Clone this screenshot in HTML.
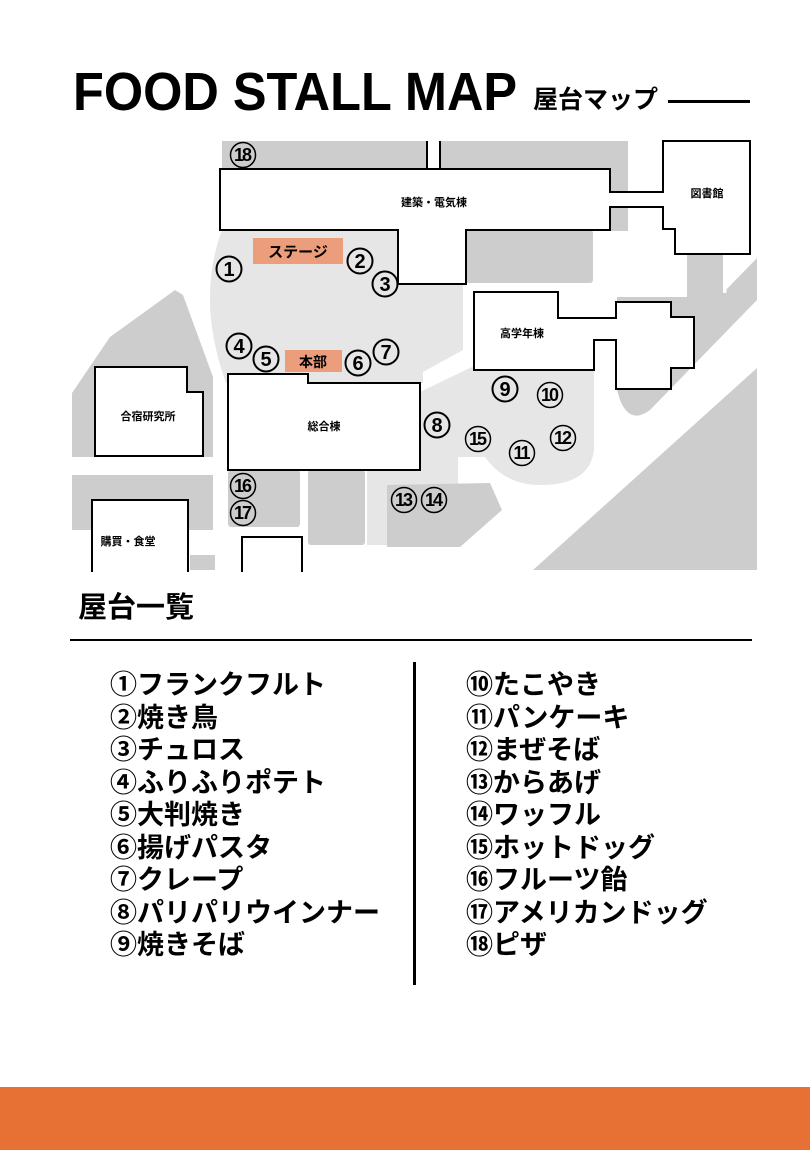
<!DOCTYPE html>
<html><head><meta charset="utf-8">
<style>
body{margin:0;width:810px;height:1150px;background:#fff;position:relative;overflow:hidden;font-family:"Liberation Sans","Noto Sans CJK JP",sans-serif;}
.t{position:absolute;white-space:nowrap;}
.list{position:absolute;font-size:27px;font-weight:bold;line-height:32.5px;font-family:"Liberation Sans","Noto Sans CJK JP",sans-serif;}
</style></head><body>
<div class="t" style="left:73px;top:62px;font-size:54px;font-weight:bold;line-height:60px;transform:scaleX(0.935);transform-origin:0 0;">FOOD STALL MAP</div>
<div class="t" style="left:533px;top:84px;font-size:25px;font-weight:bold;line-height:32px;">屋台マップ</div>
<div style="position:absolute;left:668px;top:100px;width:82px;height:3px;background:#000"></div>

<svg style="position:absolute;left:0;top:0" width="810" height="580" viewBox="0 0 810 580" font-family="Liberation Sans, Noto Sans CJK JP, sans-serif">
<g fill="#cdcdcd">
<rect x="222" y="141" width="205" height="27"/>
<rect x="440" y="141" width="188" height="27"/>
<rect x="610" y="141" width="18" height="90"/>
<rect x="466" y="230" width="127" height="53" rx="3"/>
<polygon points="72,393 110,337 175,290 183,295 213,377 213,457 72,457"/>
<rect x="72" y="475" width="141" height="55"/>
<rect x="190" y="555" width="25" height="15"/>
<rect x="228" y="470" width="72" height="57" rx="3"/>
<rect x="308" y="470" width="57" height="75" rx="3"/>
<path d="M617,297 L687,297 L687,254 L723,254 L723,293 L757,258 L757,300 L650,410 Q630,425 620,400 L617,390 Z"/>
<polygon points="757,368 757,570 533,570"/>
</g>
<line x1="725" y1="254" x2="725" y2="293" stroke="#fff" stroke-width="3"/>
<g fill="#e6e6e6">
<path d="M222,230 L398,230 L398,284 L463,284 L463,350 L423,372 L423,383 L226,383 Q196,300 222,230 Z"/>
<path d="M420,392 L474,366 L474,370 L594,370 L594,450 Q590,485 540,485 Q505,485 485,457 L458,457 L458,483 L420,483 Z"/>
<rect x="367" y="470" width="91" height="75"/>
</g>
<polygon fill="#cdcdcd" points="387,485 490,483 502,510 460,547 387,547"/>
<g fill="#fff" stroke="#000" stroke-width="2">
<polygon points="220,169 610,169 610,192 663,192 663,141 750,141 750,254 675,254 675,229 663,229 663,207 610,207 610,230 466,230 466,284 398,284 398,230 220,230"/>
<polygon points="95,367 187,367 187,392 203,392 203,456 95,456"/>
<polyline points="92,572 92,500 188,500 188,572"/>
<polygon points="228,374 308,374 308,383 420,383 420,470 228,470"/>
<polyline points="242,572 242,537 302,537 302,572"/>
<polygon points="474,292 558,292 558,318 616,318 616,302 671,302 671,317 694,317 694,368 671,368 671,389 616,389 616,340 594,340 594,370 474,370"/>
</g>
<g stroke="#000" stroke-width="2"><line x1="427" y1="141" x2="427" y2="169"/><line x1="440" y1="141" x2="440" y2="169"/></g>
<rect x="253" y="238" width="90" height="26" fill="#eb9d7c"/>
<text x="298" y="257" font-size="15" font-weight="bold" text-anchor="middle">ステージ</text>
<rect x="285" y="350" width="57" height="22" fill="#eb9d7c"/>
<text x="313" y="367" font-size="14" font-weight="bold" text-anchor="middle">本部</text>
<g font-size="11" font-weight="bold" text-anchor="middle">
<text x="434" y="206">建築・電気棟</text>
<text x="707" y="197">図書館</text>
<text x="522" y="337">高学年棟</text>
<text x="148" y="420">合宿研究所</text>
<text x="324" y="430">総合棟</text>
<text x="128" y="545">購買・食堂</text>
</g>
<g fill="none" stroke="#000">
<g stroke-width="2">
<circle cx="229" cy="269" r="12.5"/><circle cx="360" cy="261" r="12.5"/><circle cx="385" cy="284" r="12.5"/>
<circle cx="239" cy="346" r="12.5"/><circle cx="266" cy="359" r="12.5"/><circle cx="358" cy="363" r="12.5"/>
<circle cx="386" cy="352" r="12.5"/><circle cx="437" cy="425" r="12.5"/><circle cx="505" cy="389" r="12.5"/>
</g>
<g stroke-width="1.5">
<circle cx="550" cy="395" r="12.5"/><circle cx="522" cy="453" r="12.5"/><circle cx="563" cy="438" r="12.5"/>
<circle cx="404" cy="500" r="12.5"/><circle cx="434" cy="500" r="12.5"/><circle cx="478" cy="439" r="12.5"/>
<circle cx="243" cy="486" r="12.5"/><circle cx="243" cy="513" r="12.5"/><circle cx="243" cy="155" r="12.5"/>
</g>
</g>
<g font-size="20" font-weight="bold" text-anchor="middle">
<text x="229" y="276">1</text><text x="360" y="268">2</text><text x="385" y="291">3</text>
<text x="239" y="353">4</text><text x="266" y="366">5</text><text x="358" y="370">6</text>
<text x="386" y="359">7</text><text x="437" y="432">8</text><text x="505" y="396">9</text>
</g>
<g font-size="18" font-weight="bold" text-anchor="middle" letter-spacing="-2">
<text x="549" y="401">10</text><text x="521" y="459">11</text><text x="562" y="444">12</text>
<text x="403" y="506">13</text><text x="433" y="506">14</text><text x="477" y="445">15</text>
<text x="242" y="492">16</text><text x="242" y="519">17</text><text x="242" y="161">18</text>
</g>
</svg>

<div class="t" style="left:78px;top:588px;font-size:29px;font-weight:bold;line-height:40px;">屋台一覧</div>
<div style="position:absolute;left:70px;top:639px;width:682px;height:1.5px;background:#000"></div>
<div style="position:absolute;left:413px;top:662px;width:3px;height:323px;background:#000"></div>
<div class="list" style="left:110px;top:669px;">①フランクフルト<br>②焼き鳥<br>③チュロス<br>④ふりふりポテト<br>⑤大判焼き<br>⑥揚げパスタ<br>⑦クレープ<br>⑧パリパリウインナー<br>⑨焼きそば</div>
<div class="list" style="left:466px;top:669px;">⑩たこやき<br>⑪パンケーキ<br>⑫まぜそば<br>⑬からあげ<br>⑭ワッフル<br>⑮ホットドッグ<br>⑯フルーツ飴<br>⑰アメリカンドッグ<br>⑱ピザ</div>
<div style="position:absolute;left:0;top:1087px;width:810px;height:63px;background:#e77034"></div>
</body></html>
